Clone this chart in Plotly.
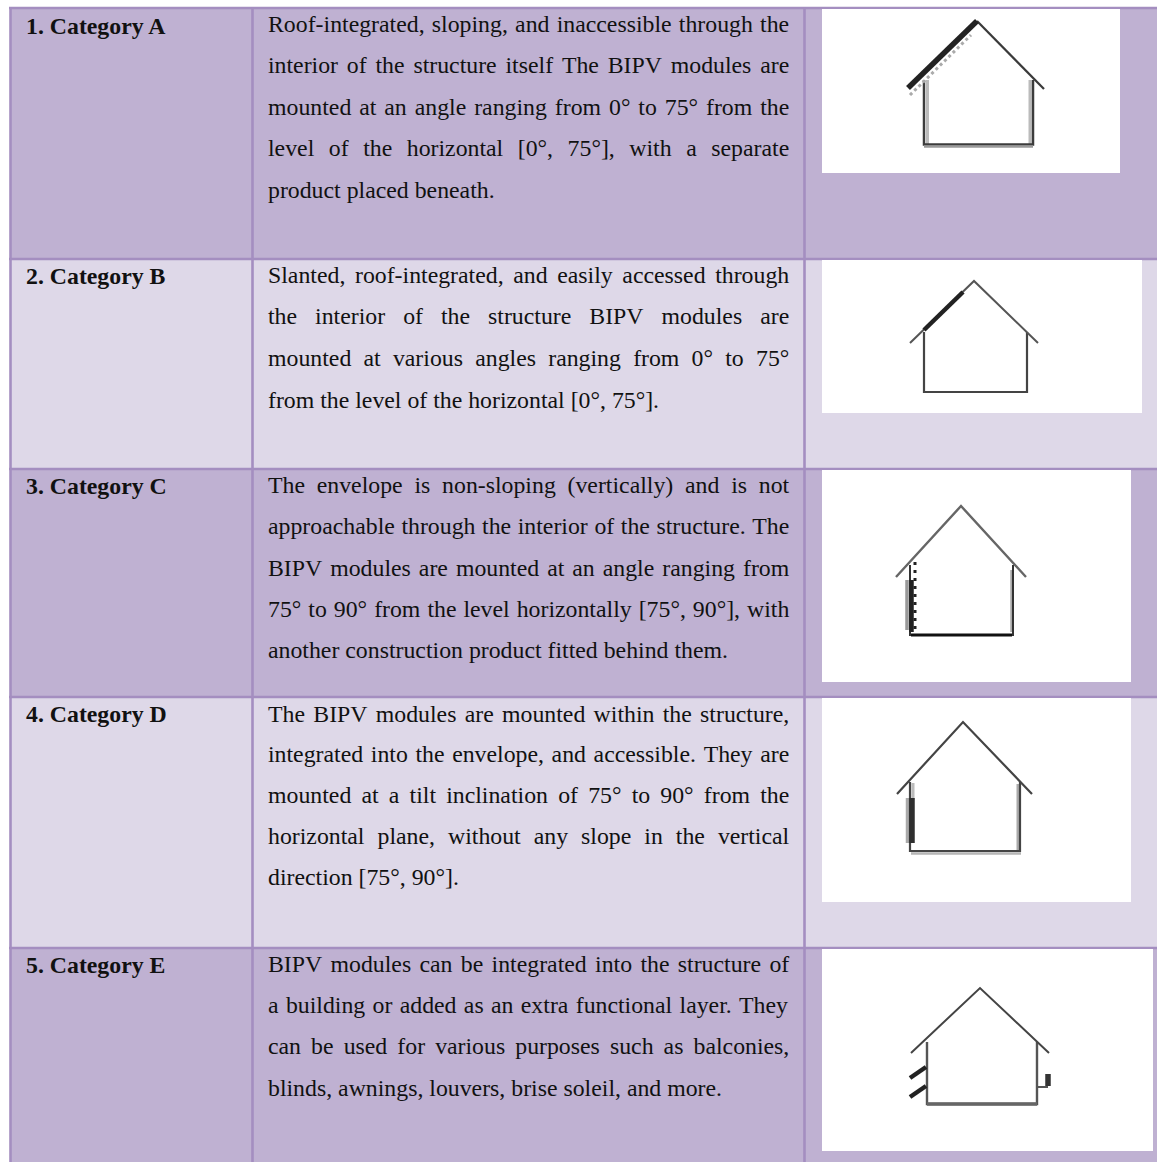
import plotly.graph_objects as go

# ---------- table content ----------
row_labels = ["1. Category A", "2. Category B", "3. Category C", "4. Category D", "5. Category E"]
row_lines = [
    ["Roof-integrated, sloping, and inaccessible through the",
     "interior of the structure itself The BIPV modules are",
     "mounted at an angle ranging from 0° to 75° from the",
     "level of the horizontal [0°, 75°], with a separate",
     "product placed beneath."],
    ["Slanted, roof-integrated, and easily accessed through",
     "the interior of the structure BIPV modules are",
     "mounted at various angles ranging from 0° to 75°",
     "from the level of the horizontal [0°, 75°]."],
    ["The envelope is non-sloping (vertically) and is not",
     "approachable through the interior of the structure. The",
     "BIPV modules are mounted at an angle ranging from",
     "75° to 90° from the level horizontally [75°, 90°], with",
     "another construction product fitted behind them."],
    ["The BIPV modules are mounted within the structure,",
     "integrated into the envelope, and accessible. They are",
     "mounted at a tilt inclination of 75° to 90° from the",
     "horizontal plane, without any slope in the vertical",
     "direction [75°, 90°]."],
    ["BIPV modules can be integrated into the structure of",
     "a building or added as an extra functional layer. They",
     "can be used for various purposes such as balconies,",
     "blinds, awnings, louvers, brise soleil, and more."],
]
row_baselines = [
    [33, 74.5, 116, 157.5, 198.5],
    [283.5, 325, 367, 408.5],
    [493.5, 535, 577, 617.5, 659],
    [722.5, 763.5, 804.5, 845, 886],
    [972.5, 1013.5, 1055.5, 1096.5],
]
label_baselines = [35, 285, 495, 723, 974]

# ---------- table geometry ----------
row_tops = [8, 259, 469, 697, 948]
row_bottoms = [259, 469, 697, 948, 1163]
row_fills = ["#BFB1D2", "#DED8E8", "#BFB1D2", "#DED8E8", "#BFB1D2"]
col_lines = [10.5, 252.5, 804.5]
pic_x0 = [822, 822, 822, 822, 822]
pic_x1 = [1120, 1142, 1131, 1131, 1153]
pic_y0 = [9, 260, 470, 698, 949]
pic_y1 = [173, 413, 682, 902, 1151]

# ---------- house drawings (x list, y list, width, colour, dash) ----------
strokes = [
    # A
    ([927.5, 927.5], [80, 144], 3, "#bbbbbb", None), ([1030, 1030], [80, 144], 3, "#bbbbbb", None),
    ([924, 924, 1033, 1033], [80, 144.5, 144.5, 80], 2.5, "#3c3c3c", None),
    ([924, 1033], [146.5, 146.5], 2.5, "#999999", None),
    ([910, 971], [95, 35], 3, "#aaaaaa", "3px,3px"),
    ([977, 1044], [21, 89], 2.2, "#3a3a3a", None),
    ([908, 977], [88, 21], 5.5, "#222222", None),
    # B
    ([924, 924, 1027, 1027], [332, 392, 392, 332], 2.2, "#444444", None),
    ([910, 974, 1038], [343, 281, 343], 2, "#555555", None),
    ([924, 963], [330, 292], 4.5, "#222222", None),
    # C
    ([907, 907], [580, 630], 3.5, "#999999", None),
    ([1011.5, 1011.5], [570, 632], 2.5, "#aaaaaa", None),
    ([910, 910, 1013, 1013], [565, 635, 635, 565], 2, "#333333", None),
    ([911, 1012], [635, 635], 2.8, "#111111", None),
    ([896, 961, 1026], [577, 506, 577], 2.4, "#666666", None),
    ([911.5, 911.5], [580, 632], 4.5, "#222222", None),
    ([915, 915], [562, 634], 3, "#222222", "3px,5px"),
    # D
    ([907.5, 907.5], [798, 843], 3.5, "#aaaaaa", None),
    ([913, 913], [783, 800], 3, "#bbbbbb", None),
    ([1018, 1018], [784, 850], 3, "#aaaaaa", None),
    ([910, 910, 1020, 1020], [782, 851, 851, 782], 2.2, "#444444", None),
    ([911, 1021], [853.5, 853.5], 2.5, "#b5b5b5", None),
    ([912, 912], [798, 843], 5.5, "#2e2e2e", None),
    ([897, 963, 1032], [794, 722, 794], 2.2, "#444444", None),
    # E
    ([927, 927, 1037, 1037], [1042, 1104, 1104, 1042], 2.4, "#555555", None),
    ([927, 1037], [1104, 1104], 3.5, "#666666", None),
    ([911, 980, 1049], [1053, 988, 1053], 2, "#444444", None),
    ([910, 926], [1078, 1067], 4.5, "#222222", None),
    ([910, 926], [1097, 1086], 4.5, "#222222", None),
    ([1037, 1048], [1087, 1087], 2, "#555555", None),
    ([1048, 1048], [1086, 1074], 5.5, "#333333", None),
]

# ---------- text settings ----------
BODY_SIZE = 23.8
LABEL_SIZE = 23.8
BODY_X0, BODY_X1 = 267, 788.3
LABEL_X0 = 24.7
FONT = "Liberation Serif"
DESCENT = 0.216

TIMES = dict(a=444,b=500,c=444,d=500,e=444,f=333,g=500,h=500,i=278,j=278,k=500,l=278,m=778,
             n=500,o=500,p=500,q=500,r=333,s=389,t=278,u=500,v=500,w=722,x=500,y=500,z=444,
             A=722,B=667,C=667,D=722,E=611,F=556,G=722,H=722,I=333,J=389,K=722,L=611,M=889,
             N=722,O=722,P=556,Q=722,R=667,S=556,T=611,U=722,V=722,W=944,X=722,Y=722,Z=611)
TIMES.update({c: 500 for c in "0123456789"})
TIMES.update({".": 250, ",": 250, "-": 333, " ": 250, "[": 333, "]": 333, "°": 400, "(": 333, ")": 333})


def width(s, size):
    return sum(TIMES[c] for c in s) / 1000 * size


def line_annotation(text, baseline, justify):
    words = text.split(" ")
    biggest = BODY_SIZE
    shown = text
    if justify:
        gap = (BODY_X1 - BODY_X0 - sum(width(w, BODY_SIZE) for w in words)) / (len(words) - 1)
        space_size = max(gap, 2) / 0.25
        biggest = max(biggest, space_size)
        shown = f'<span style="font-size:{space_size:.2f}px"> </span>'.join(words)
    return dict(x=BODY_X0, y=baseline + DESCENT * biggest, xref="x", yref="y", text=shown,
                showarrow=False, xanchor="left", yanchor="bottom", align="left", borderpad=0,
                font=dict(family=FONT, size=BODY_SIZE, color="#111111"))


fig = go.Figure()

shapes = []
for top, bottom, fill in zip(row_tops, row_bottoms, row_fills):
    shapes.append(dict(type="rect", x0=col_lines[0], x1=1157, y0=top, y1=bottom, fillcolor=fill,
                       line_width=0, layer="below"))
border = "#A48EC0"
for top in row_tops:
    shapes.append(dict(type="line", x0=9, x1=1157, y0=top, y1=top, line=dict(color=border, width=2.4), layer="below"))
for x in col_lines:
    shapes.append(dict(type="line", x0=x, x1=x, y0=7, y1=1162, line=dict(color=border, width=2.6), layer="below"))
for x0, x1, y0, y1 in zip(pic_x0, pic_x1, pic_y0, pic_y1):
    shapes.append(dict(type="rect", x0=x0, x1=x1, y0=y0, y1=y1, fillcolor="#FFFFFF", line_width=0, layer="below"))

for xs, ys, w, color, dash in strokes:
    fig.add_trace(go.Scatter(x=xs, y=ys, mode="lines", hoverinfo="skip", showlegend=False,
                             line=dict(color=color, width=w, dash=dash)))

annotations = []
for label, y in zip(row_labels, label_baselines):
    annotations.append(dict(x=LABEL_X0, y=y + DESCENT * LABEL_SIZE, xref="x", yref="y",
                            text=f"<b>{label}</b>", showarrow=False, xanchor="left", yanchor="bottom",
                            borderpad=0, font=dict(family=FONT, size=LABEL_SIZE, color="#111111")))
for lines, baselines in zip(row_lines, row_baselines):
    for i, (line, b) in enumerate(zip(lines, baselines)):
        annotations.append(line_annotation(line, b, i < len(lines) - 1))

fig.update_layout(
    width=1157, height=1162, margin=dict(l=0, r=0, t=0, b=0),
    paper_bgcolor="#FFFFFF", plot_bgcolor="rgba(0,0,0,0)",
    xaxis=dict(range=[0, 1157], visible=False, fixedrange=True),
    yaxis=dict(range=[1162, 0], visible=False, fixedrange=True),
    shapes=shapes, annotations=annotations, showlegend=False,
)
fig.write_html("out.html", config={"displayModeBar": False},
               post_script="document.body.style.margin='0';document.body.style.overflow='hidden';")
